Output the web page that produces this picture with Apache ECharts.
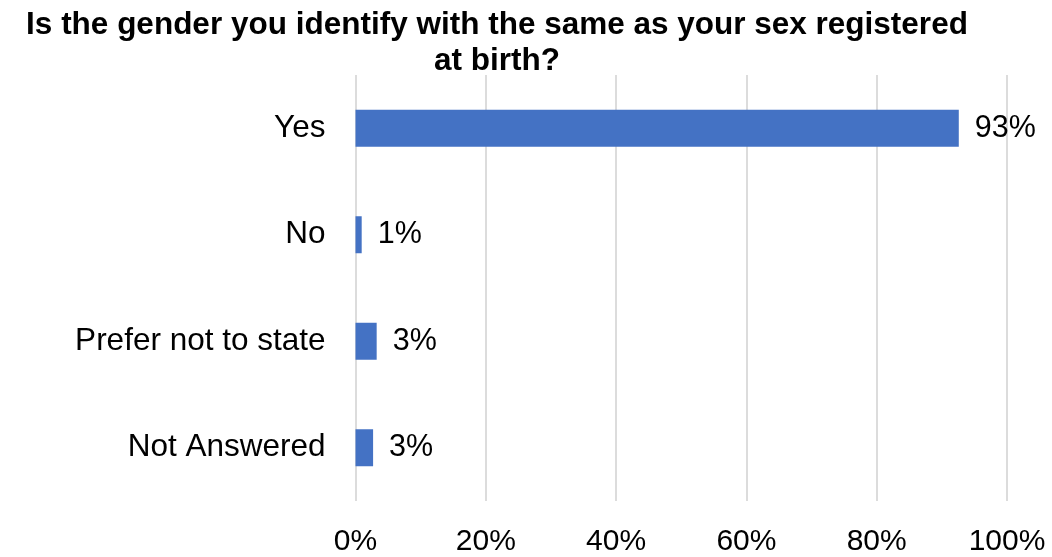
<!DOCTYPE html>
<html>
<head>
<meta charset="utf-8">
<script src="https://cdn.jsdelivr.net/npm/echarts@6/dist/echarts.min.js"></script>
<style>html,body{margin:0;padding:0;background:#fff;}#c{width:1052px;height:557px;}</style>
</head>
<body>
<div id="c"></div>
<script>
const titleText = 'Is the gender you identify with the same as your sex registered\nat birth?';
const categories = ['Yes', 'No', 'Prefer not to state', 'Not Answered'];
const values = [92.6, 0.95, 3.25, 2.7];
const xTicks = [0, 20, 40, 60, 80, 100];

const chart = echarts.init(document.getElementById('c'), null, {renderer: 'canvas'});
chart.setOption({
  animation: false,
  backgroundColor: '#ffffff',
  title: {
    text: titleText,
    left: 492,
    top: 2,
    textAlign: 'center',
    textStyle: {
      fontFamily: 'Liberation Sans, Arial, sans-serif',
      fontWeight: 'bold',
      fontSize: 31.5,
      lineHeight: 36,
      color: '#000'
    }
  },
  grid: {left: 355.5, right: 45, top: 75, bottom: 53, containLabel: false},
  xAxis: {
    type: 'value',
    min: xTicks[0],
    max: xTicks[xTicks.length - 1],
    interval: 20,
    axisLine: {show: false},
    axisTick: {show: false},
    axisLabel: {
      formatter: v => v + '%',
      fontFamily: 'Liberation Sans, Arial, sans-serif',
      fontSize: 30,
      color: '#000',
      margin: 26
    },
    splitLine: {show: true, lineStyle: {color: '#d0d0d0', width: 1.5}}
  },
  yAxis: {
    type: 'category',
    data: categories,
    inverse: true,
    axisLine: {show: false},
    axisTick: {show: false},
    axisLabel: {
      fontFamily: 'Liberation Sans, Arial, sans-serif',
      fontSize: 31.5,
      color: '#000',
      margin: 30
    }
  },
  series: [{
    type: 'bar',
    data: values,
    barWidth: 37,
    itemStyle: {color: '#4472C4'},
    label: {
      show: true,
      position: 'right',
      distance: 16,
      formatter: p => Math.round(p.value) + '%',
      fontFamily: 'Liberation Sans, Arial, sans-serif',
      fontSize: 30.5,
      color: '#000'
    }
  }]
});
</script>
</body>
</html>
